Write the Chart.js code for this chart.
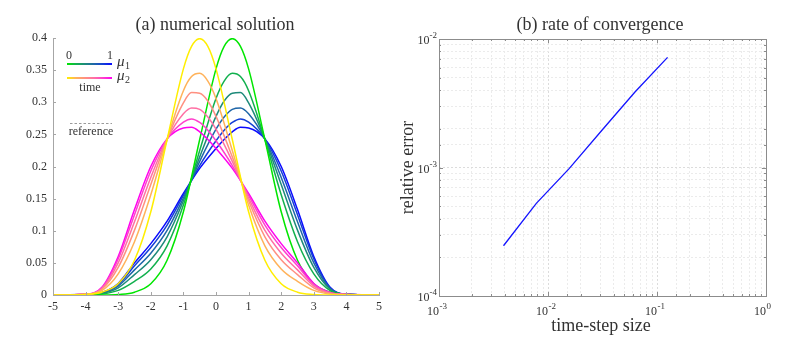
<!DOCTYPE html>
<html>
<head>
<meta charset="utf-8">
<script src="https://cdn.jsdelivr.net/npm/chart.js@4.4.0/dist/chart.umd.min.js"></script>
<style>
  body { margin: 0; background: #fff; width: 793px; height: 340px; position: relative; overflow: hidden; }
  #left { position: absolute; left: 0; top: 0; }
  #right { position: absolute; left: 400px; top: 0; }
</style>
</head>
<body>
<canvas id="left" width="400" height="340"></canvas>
<canvas id="right" width="393" height="340"></canvas>
<script>
// ---- panel (a): densities ----
const xMu1 = [-5, -4, -3.5, -3, -2.5, -2, -1.5, -1, -0.5, 0, 0.25, 0.5, 0.75, 1, 1.5, 2, 2.5, 3, 3.5, 4, 5];
const xMu2 = [-5, -4, -3.5, -3, -2.5, -2, -1.5, -1, -0.75, -0.5, -0.25, 0, 0.5, 1, 1.5, 2, 2.5, 3, 3.5, 4, 5];

// mu1, time 0 -> 1 (green -> blue)
const mu1t0 = [0, 0, 0.0001, 0.0009, 0.0044, 0.0175, 0.054, 0.1295, 0.242, 0.352, 0.387, 0.399, 0.387, 0.352, 0.242, 0.1295, 0.054, 0.0175, 0.0044, 0.0009, 0];
const mu1t1 = [0, 0.0004, 0.0015, 0.0072, 0.0213, 0.0406, 0.0766, 0.140, 0.225, 0.306, 0.333, 0.345, 0.340, 0.318, 0.242, 0.156, 0.083, 0.033, 0.007, 0.001, 0];
const mu1t2 = [0, 0.0006, 0.0024, 0.0112, 0.0318, 0.055, 0.0906, 0.1466, 0.215, 0.278, 0.302, 0.314, 0.315, 0.299, 0.2426, 0.172, 0.101, 0.043, 0.009, 0.001, 0];
const mu1t3 = [0, 0.0008, 0.0031, 0.0139, 0.0391, 0.065, 0.1004, 0.151, 0.208, 0.258, 0.277, 0.289, 0.291, 0.282, 0.2428, 0.183, 0.114, 0.050, 0.010, 0.001, 0];
const mu1t4 = [0, 0.0009, 0.0036, 0.0163, 0.0454, 0.0738, 0.1089, 0.155, 0.2015, 0.240, 0.2565, 0.2685, 0.274, 0.269, 0.243, 0.193, 0.125, 0.056, 0.011, 0.001, 0];
const mu1t5 = [0, 0.001, 0.004, 0.018, 0.05, 0.08, 0.115, 0.158, 0.197, 0.228, 0.242, 0.254, 0.261, 0.26, 0.243, 0.20, 0.133, 0.06, 0.012, 0.001, 0];

// mu2, time 0 -> 1 (yellow -> magenta)
const mu2t0 = [0, 0.0009, 0.0044, 0.0175, 0.054, 0.1295, 0.242, 0.352, 0.387, 0.399, 0.387, 0.352, 0.242, 0.1295, 0.054, 0.0175, 0.0044, 0.0009, 0.0001, 0, 0];
const mu2t1 = [0, 0.001, 0.007, 0.033, 0.083, 0.156, 0.242, 0.318, 0.340, 0.345, 0.333, 0.306, 0.225, 0.140, 0.0766, 0.0406, 0.0213, 0.0072, 0.0015, 0.0004, 0];
const mu2t2 = [0, 0.001, 0.009, 0.043, 0.101, 0.172, 0.2426, 0.299, 0.315, 0.314, 0.302, 0.278, 0.215, 0.1466, 0.0906, 0.055, 0.0318, 0.0112, 0.0024, 0.0006, 0];
const mu2t3 = [0, 0.001, 0.010, 0.050, 0.114, 0.183, 0.2428, 0.282, 0.291, 0.289, 0.277, 0.258, 0.208, 0.151, 0.1004, 0.065, 0.0391, 0.0139, 0.0031, 0.0008, 0];
const mu2t4 = [0, 0.001, 0.011, 0.056, 0.125, 0.193, 0.243, 0.269, 0.274, 0.2685, 0.2565, 0.240, 0.2015, 0.155, 0.1089, 0.0738, 0.0454, 0.0163, 0.0036, 0.0009, 0];
const mu2t5 = [0, 0.001, 0.012, 0.06, 0.133, 0.20, 0.243, 0.26, 0.261, 0.254, 0.242, 0.228, 0.197, 0.158, 0.115, 0.08, 0.05, 0.018, 0.004, 0.001, 0];

const mu1Colors = ['#00e600', '#12b04e', '#1e8a7a', '#1f66a8', '#143fd6', '#0a0aff'];
const mu2Colors = ['#ffee00', '#ffb25a', '#ff9080', '#ff70a4', '#ff40cc', '#ff00f0'];

const leftXTicks = [-5, -4, -3, -2, -1, 0, 1, 2, 3, 4, 5];
const leftYTicks = ['0', '0.05', '0.1', '0.15', '0.2', '0.25', '0.3', '0.35', '0.4'];

// ---- panel (b): convergence ----
const stepSizes = [0.00390625, 0.0078125, 0.015625, 0.03125, 0.0625, 0.125];
const relErrors = [2.46e-4, 5.26e-4, 9.8e-4, 1.95e-3, 3.85e-3, 7.2e-3];
const rightXExps = [-3, -2, -1, 0];
const rightYExps = [-4, -3, -2];

const SERIF = '"Liberation Serif", "Times New Roman", serif';
const TXT = '#333';
const AXIS = '#a6a6a6';

function pts(xs, ys) { return xs.map((x, i) => ({ x: x, y: ys[i] })); }

const mu1Sets = [mu1t0, mu1t1, mu1t2, mu1t3, mu1t4, mu1t5].map((ys, i) => ({
  data: pts(xMu1, ys), borderColor: mu1Colors[i]
}));
const mu2Sets = [mu2t0, mu2t1, mu2t2, mu2t3, mu2t4, mu2t5].map((ys, i) => ({
  data: pts(xMu2, ys), borderColor: mu2Colors[i]
}));

// titles, inward ticks and the little legend of panel (a)
const leftDeco = {
  id: 'leftDeco',
  afterDraw(chart) {
    const ctx = chart.ctx, a = chart.chartArea;
    const xs = chart.scales.x, ys = chart.scales.y;
    ctx.save();
    ctx.strokeStyle = AXIS; ctx.lineWidth = 1;
    ctx.beginPath();
    leftXTicks.forEach(v => { const p = Math.round(xs.getPixelForValue(v)) + 0.5; ctx.moveTo(p, a.bottom); ctx.lineTo(p, a.bottom - 3); });
    leftYTicks.forEach(v => { const p = Math.round(ys.getPixelForValue(+v)) + 0.5; ctx.moveTo(a.left, p); ctx.lineTo(a.left + 3, p); });
    ctx.stroke();

    ctx.fillStyle = TXT;
    ctx.textAlign = 'center'; ctx.textBaseline = 'middle';
    ctx.font = '18px ' + SERIF;
    ctx.fillText('(a) numerical solution', 215, 25);

    // legend
    ctx.lineWidth = 2;
    let g = ctx.createLinearGradient(67, 0, 112, 0);
    mu1Colors.forEach((c, i) => g.addColorStop(i / (mu1Colors.length - 1), c));
    ctx.strokeStyle = g;
    ctx.beginPath(); ctx.moveTo(67, 64); ctx.lineTo(112, 64); ctx.stroke();
    g = ctx.createLinearGradient(67, 0, 112, 0);
    mu2Colors.forEach((c, i) => g.addColorStop(i / (mu2Colors.length - 1), c));
    ctx.strokeStyle = g;
    ctx.beginPath(); ctx.moveTo(67, 78); ctx.lineTo(112, 78); ctx.stroke();

    ctx.font = '12px ' + SERIF;
    ctx.fillText('0', 69, 56);
    ctx.fillText('1', 110, 56);
    ctx.fillText('time', 90, 88);
    ctx.fillText('reference', 91, 132);

    ctx.textAlign = 'left';
    ctx.font = 'italic 15px ' + SERIF;
    ctx.fillText('\u03bc', 117, 62);
    ctx.fillText('\u03bc', 117, 76);
    ctx.font = '10px ' + SERIF;
    ctx.fillText('1', 125, 66);
    ctx.fillText('2', 125, 80);

    ctx.strokeStyle = '#9a9a9a'; ctx.lineWidth = 1;
    ctx.setLineDash([2.5, 2]);
    ctx.beginPath(); ctx.moveTo(70, 123.5); ctx.lineTo(112, 123.5); ctx.stroke();
    ctx.restore();
  }
};

new Chart(document.getElementById('left'), {
  type: 'line',
  data: { datasets: mu2Sets.concat(mu1Sets) },
  options: {
    responsive: false,
    animation: false,
    devicePixelRatio: 1,
    layout: { padding: { top: 38, right: 21, left: 0, bottom: 0 } },
    plugins: { legend: { display: false }, tooltip: { enabled: false } },
    elements: {
      point: { radius: 0 },
      line: { borderWidth: 1.5, cubicInterpolationMode: 'monotone', fill: false }
    },
    scales: {
      x: {
        type: 'linear', min: -5, max: 5,
        afterFit: s => { s.height = 45; },
        afterBuildTicks: s => { s.ticks = leftXTicks.map(v => ({ value: v })); },
        ticks: { padding: 5, color: TXT, font: { family: SERIF, size: 12 }, maxRotation: 0,
                 callback: v => String(v) },
        grid: { display: false, drawTicks: false },
        border: { color: AXIS, width: 1 }
      },
      y: {
        type: 'linear', min: 0, max: 0.4,
        afterFit: s => { s.width = 53; },
        afterBuildTicks: s => { s.ticks = leftYTicks.map(v => ({ value: +v })); },
        ticks: { padding: 6, color: TXT, font: { family: SERIF, size: 12 },
                 callback: (v, i) => leftYTicks[i] },
        grid: { display: false, drawTicks: false },
        border: { color: AXIS, width: 1 }
      }
    }
  },
  plugins: [leftDeco]
});

// labels with exponents, box, inward ticks, titles of panel (b)
const rightDeco = {
  id: 'rightDeco',
  afterDraw(chart) {
    const ctx = chart.ctx, a = chart.chartArea;
    const xs = chart.scales.x, ys = chart.scales.y;
    ctx.save();
    ctx.strokeStyle = '#8c8c8c'; ctx.lineWidth = 1;
    ctx.strokeRect(Math.round(a.left) + 0.5, Math.round(a.top) + 0.5,
                   Math.round(a.right - a.left), Math.round(a.bottom - a.top));

    ctx.beginPath();
    xs.ticks.forEach(t => {
      const major = Math.abs(Math.log10(t.value) - Math.round(Math.log10(t.value))) < 1e-9;
      const len = major ? 4 : 2;
      const p = Math.round(xs.getPixelForValue(t.value)) + 0.5;
      ctx.moveTo(p, a.bottom); ctx.lineTo(p, a.bottom - len);
      ctx.moveTo(p, a.top); ctx.lineTo(p, a.top + len);
    });
    ys.ticks.forEach(t => {
      const major = Math.abs(Math.log10(t.value) - Math.round(Math.log10(t.value))) < 1e-9;
      const len = major ? 4 : 2;
      const p = Math.round(ys.getPixelForValue(t.value)) + 0.5;
      ctx.moveTo(a.left, p); ctx.lineTo(a.left + len, p);
      ctx.moveTo(a.right, p); ctx.lineTo(a.right - len, p);
    });
    ctx.stroke();

    ctx.fillStyle = TXT;
    ctx.textBaseline = 'alphabetic';
    rightXExps.forEach(e => {
      const p = xs.getPixelForValue(Math.pow(10, e));
      ctx.font = '12px ' + SERIF; ctx.textAlign = 'right';
      ctx.fillText('10', p, 315);
      ctx.font = '9px ' + SERIF; ctx.textAlign = 'left';
      ctx.fillText(String(e), p + 0.5, 309);
    });
    rightYExps.forEach(e => {
      const p = ys.getPixelForValue(Math.pow(10, e));
      ctx.font = '9px ' + SERIF; ctx.textAlign = 'right';
      const sw = ctx.measureText(String(e)).width;
      ctx.fillText(String(e), 37, p - 1);
      ctx.font = '12px ' + SERIF;
      ctx.fillText('10', 37 - sw, p + 5);
    });

    ctx.textAlign = 'center'; ctx.textBaseline = 'middle';
    ctx.font = '18px ' + SERIF;
    ctx.fillText('(b) rate of convergence', 200, 25);
    ctx.fillText('time-step size', 201, 326);
    ctx.translate(8, (a.top + a.bottom) / 2);
    ctx.rotate(-Math.PI / 2);
    ctx.fillText('relative error', 0, 0);
    ctx.restore();
  }
};

const gridColor = ctx => {
  const v = ctx.tick ? ctx.tick.value : 1;
  const major = Math.abs(Math.log10(v) - Math.round(Math.log10(v))) < 1e-9;
  return major ? '#dcdcdc' : '#ebebeb';
};

new Chart(document.getElementById('right'), {
  type: 'line',
  data: {
    datasets: [{
      data: pts(stepSizes, relErrors),
      borderColor: '#1414ff', borderWidth: 1.3, pointRadius: 0, fill: false, tension: 0
    }]
  },
  options: {
    responsive: false,
    animation: false,
    devicePixelRatio: 1,
    layout: { padding: { top: 39, right: 27, left: 0, bottom: 0 } },
    plugins: { legend: { display: false }, tooltip: { enabled: false } },
    scales: {
      x: {
        type: 'logarithmic', min: 0.001, max: 1,
        afterFit: s => { s.height = 44; },
        ticks: { display: false },
        grid: { color: gridColor, lineWidth: 1, drawTicks: false },
        border: { display: false, dash: [2, 2] }
      },
      y: {
        type: 'logarithmic', min: 0.0001, max: 0.01,
        afterFit: s => { s.width = 39; },
        ticks: { display: false },
        grid: { color: gridColor, lineWidth: 1, drawTicks: false },
        border: { display: false, dash: [2, 2] }
      }
    }
  },
  plugins: [rightDeco]
});
</script>
</body>
</html>
